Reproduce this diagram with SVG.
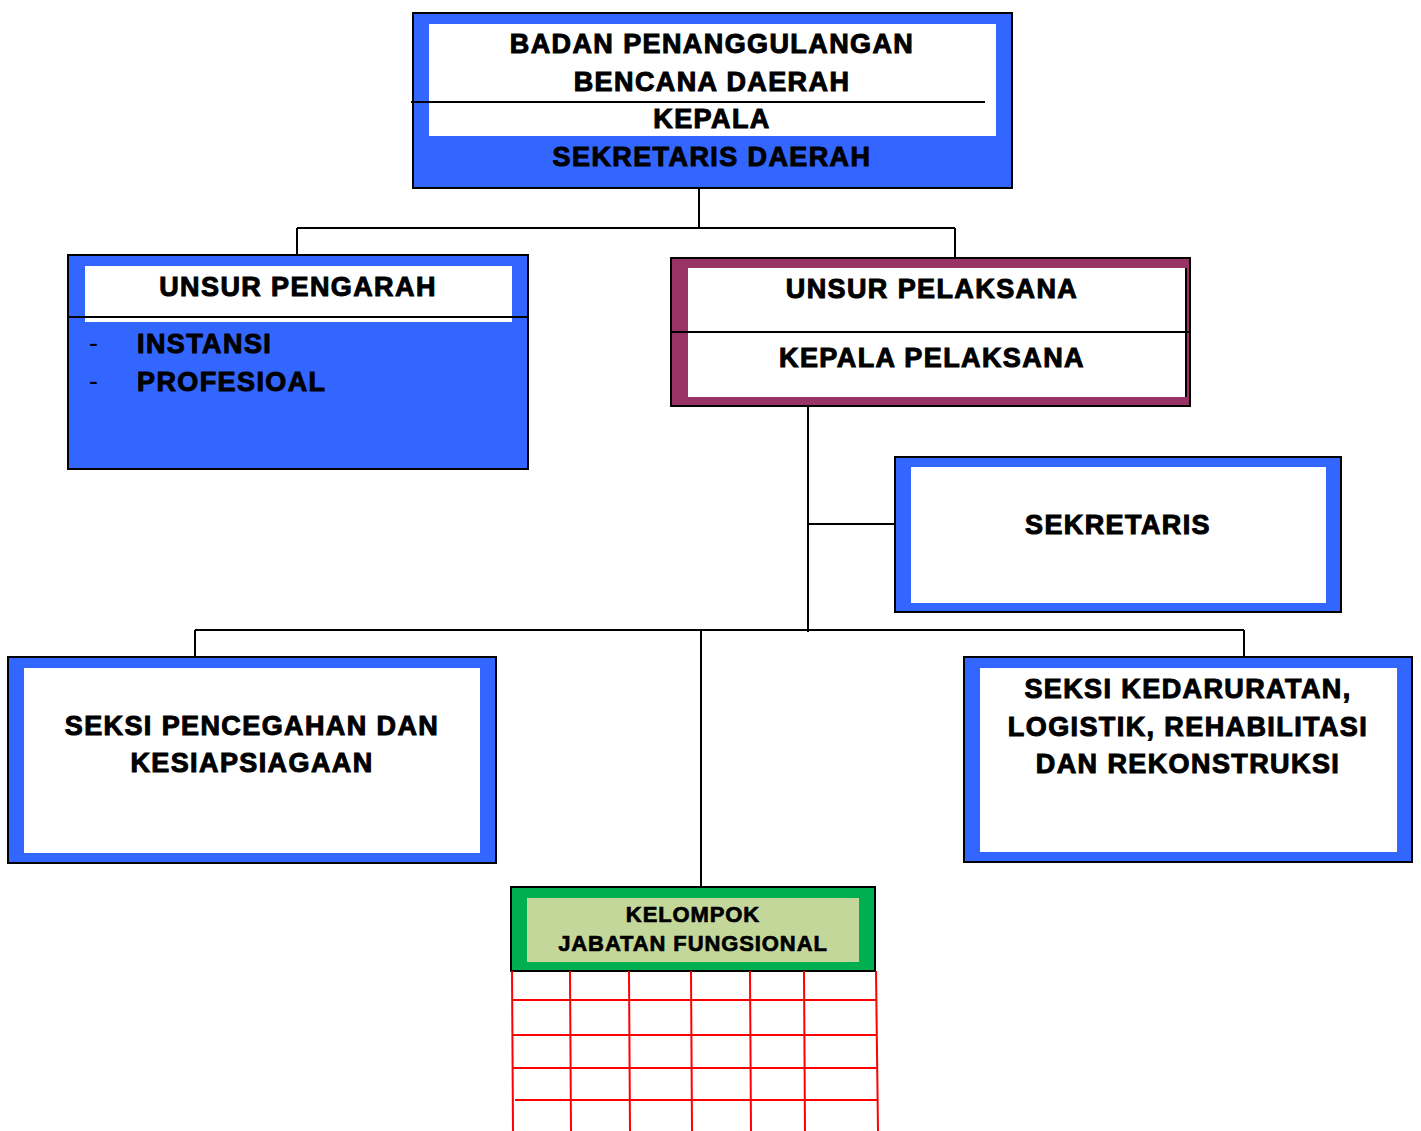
<svg xmlns="http://www.w3.org/2000/svg" width="1421" height="1131" viewBox="0 0 1421 1131">
<style>
.t{font-family:"Liberation Sans",Arial,sans-serif;font-weight:bold;font-size:27px;letter-spacing:1.4px;fill:#000;stroke:#000;stroke-width:1;text-anchor:middle}
.s{font-size:22px;letter-spacing:0.9px;stroke-width:0.7}
.l{text-anchor:start}
.d{stroke-width:0;font-weight:normal}
.box{stroke:#000;stroke-width:2}
.blue{fill:#3366FF}
.w{fill:#fff}
.ln{stroke:#000;stroke-width:2;fill:none}
.red{stroke:#FF0000;stroke-width:2;fill:none}
</style>
<rect width="1421" height="1131" fill="#fff"/>
<g id="connectors">
<path class="ln" d="M699 188V228M297 228H955M297 228V255M955 228V258"/>
<path class="ln" d="M808 406V632M808 524H895"/>
<path class="ln" d="M195 630H1244M195 630V656M1244 630V656M701 630V887"/>
</g>
<g id="kepala">
<rect class="box blue" x="413" y="13" width="599" height="175"/>
<rect class="w" x="429" y="24" width="567" height="112"/>
<line class="ln" x1="411" y1="102" x2="985" y2="102"/>
<text class="t" x="712" y="53">BADAN PENANGGULANGAN</text>
<text class="t" x="712" y="91">BENCANA DAERAH</text>
<text class="t" x="712" y="128">KEPALA</text>
<text class="t" x="712" y="166">SEKRETARIS DAERAH</text>
</g>
<g id="pengarah">
<rect class="box blue" x="68" y="255" width="460" height="214"/>
<rect class="w" x="85" y="266" width="427" height="56"/>
<line class="ln" x1="68" y1="317" x2="528" y2="317"/>
<text class="t" x="298" y="296">UNSUR PENGARAH</text>
<text class="t l d" x="89" y="352">-</text>
<text class="t l" x="137" y="353">INSTANSI</text>
<text class="t l d" x="89" y="390">-</text>
<text class="t l" x="137" y="391">PROFESIOAL</text>
</g>
<g id="pelaksana">
<rect class="box" fill="#993366" x="671" y="258" width="519" height="148"/>
<rect class="w" x="688" y="268" width="498" height="129"/>
<line class="ln" x1="1186" y1="268" x2="1186" y2="397"/>
<line class="ln" x1="671" y1="332" x2="1190" y2="332"/>
<text class="t" x="932" y="298">UNSUR PELAKSANA</text>
<text class="t" x="932" y="367">KEPALA PELAKSANA</text>
</g>
<g id="sekretaris">
<rect class="box blue" x="895" y="457" width="446" height="155"/>
<rect class="w" x="911" y="467" width="415" height="136"/>
<text class="t" x="1118" y="534">SEKRETARIS</text>
</g>
<g id="pencegahan">
<rect class="box blue" x="8" y="657" width="488" height="206"/>
<rect class="w" x="24" y="668" width="456" height="185"/>
<text class="t" x="252" y="735">SEKSI PENCEGAHAN DAN</text>
<text class="t" x="252" y="772">KESIAPSIAGAAN</text>
</g>
<g id="kedaruratan">
<rect class="box blue" x="964" y="657" width="448" height="205"/>
<rect class="w" x="980" y="668" width="417" height="184"/>
<text class="t" x="1188" y="698">SEKSI KEDARURATAN,</text>
<text class="t" x="1188" y="736">LOGISTIK, REHABILITASI</text>
<text class="t" x="1188" y="773">DAN REKONSTRUKSI</text>
</g>
<g id="fungsional">
<rect class="box" fill="#00B050" x="511" y="887" width="364" height="84"/>
<rect fill="#C4D79B" x="527" y="898" width="332" height="64"/>
<text class="t s" x="693" y="922">KELOMPOK</text>
<text class="t s" x="693" y="951">JABATAN FUNGSIONAL</text>
</g>
<g id="grid">
<path class="red" d="M512 971L513 1131M570 971L571 1131M629 971L630 1131M691 971L692 1131M750 971L751 1131M804 971L805 1131M876 971L878 1131"/>
<path class="red" d="M512 1000H876M512 1035H877M512 1068H877M515 1100H877"/>
</g>
</svg>
